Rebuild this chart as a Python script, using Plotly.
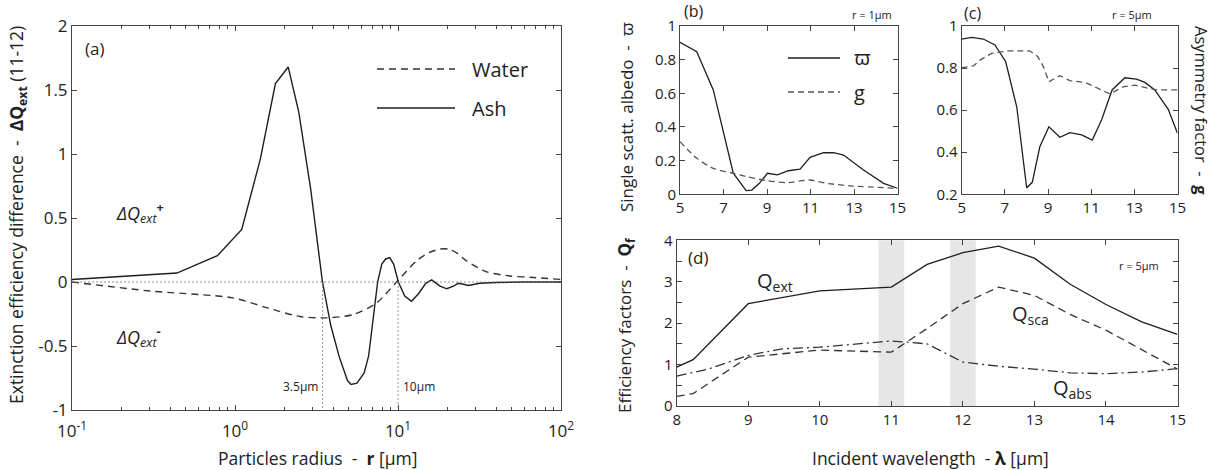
import plotly.graph_objects as go

# ---------------- data ----------------
# (a) extinction efficiency difference dQext(11-12) vs particle radius r [um]
ash_r = [0.1, 0.44, 0.78, 1.1, 1.43, 1.77, 2.12, 2.46, 2.91, 3.44, 3.87, 4.36, 4.9, 5.15, 5.6,
         6.2, 6.6, 7.0, 7.5, 7.95, 8.4, 8.9, 9.4, 10.05, 11.0, 12.1, 13.4, 14.8, 16.1, 18.0,
         19.9, 21.7, 23.4, 25.2, 27.0, 31.7, 40.0, 60.0, 100.0]
ash_dq = [0.02, 0.07, 0.205, 0.41, 0.96, 1.55, 1.68, 1.33, 0.73, 0.0, -0.34, -0.585, -0.77, -0.80, -0.79,
          -0.71, -0.58, -0.32, 0.0, 0.14, 0.18, 0.19, 0.14, 0.0, -0.11, -0.15, -0.09, -0.01, 0.016, -0.03,
          -0.053, -0.035, -0.01, -0.018, -0.027, -0.01, -0.004, 0.0, 0.0]
water_r = [0.1, 0.3, 0.97, 1.56, 2.5, 3.65, 5.3, 7.4, 9.8, 13.0, 15.5, 18.1, 20.4, 23.0, 26.3,
           35.0, 48.6, 67.6, 100.0]
water_dq = [0.0, -0.07, -0.124, -0.20, -0.27, -0.28, -0.255, -0.163, 0.0, 0.165, 0.23, 0.257, 0.257,
            0.225, 0.165, 0.079, 0.047, 0.035, 0.02]
marker_r = [3.45, 10.0]
marker_labels = ["3.5µm", "10µm"]

# (b) r = 1 um : single scattering albedo and asymmetry factor vs wavelength
b_wl_albedo = [5, 5.77, 6.53, 7.45, 8.04, 8.30, 8.65, 9.02, 9.48, 9.98, 10.52, 10.98, 11.6, 12.06,
               12.52, 13.44, 14.36, 15]
b_albedo = [0.903, 0.847, 0.62, 0.125, 0.022, 0.025, 0.065, 0.125, 0.115, 0.14, 0.15, 0.22, 0.247,
            0.247, 0.233, 0.144, 0.065, 0.036]
b_wl_asym = [5, 5.77, 6.53, 7.45, 8.07, 8.98, 9.9, 10.98, 11.73, 12.96, 15]
b_asym = [0.313, 0.214, 0.154, 0.125, 0.105, 0.081, 0.069, 0.085, 0.065, 0.049, 0.036]

# (c) r = 5 um
c_wl_albedo = [5, 5.46, 6.0, 6.54, 7.04, 7.55, 8.01, 8.27, 8.62, 9.04, 9.55, 10.01, 10.56, 11.05,
               11.48, 11.97, 12.56, 13.1, 13.49, 13.95, 14.57, 15]
c_albedo = [0.938, 0.946, 0.938, 0.910, 0.830, 0.616, 0.231, 0.257, 0.426, 0.521, 0.471, 0.493,
            0.482, 0.458, 0.553, 0.696, 0.754, 0.747, 0.732, 0.696, 0.604, 0.49]
c_wl_asym = [5, 5.54, 5.85, 6.39, 7.16, 8.17, 8.53, 8.79, 9.04, 9.55, 10.01, 10.71, 11.17, 11.87,
             12.48, 13.02, 13.64, 14.1, 15]
c_asym = [0.802, 0.81, 0.838, 0.870, 0.882, 0.881, 0.854, 0.806, 0.735, 0.764, 0.740, 0.732, 0.711,
          0.677, 0.711, 0.719, 0.704, 0.696, 0.696]

# (d) r = 5 um : efficiency factors vs wavelength
d_wl = [8, 8.23, 9, 10, 11, 11.5, 12, 12.5, 13, 13.5, 14, 14.5, 15]
d_qext = [0.94, 1.12, 2.47, 2.78, 2.87, 3.42, 3.70, 3.86, 3.57, 2.94, 2.45, 2.03, 1.73]
d_qsca = [0.23, 0.30, 1.18, 1.35, 1.30, 1.87, 2.47, 2.87, 2.67, 2.21, 1.83, 1.35, 0.89]
d_wl_abs = [8, 8.44, 9, 9.47, 10, 10.54, 11, 11.5, 12, 12.5, 13, 13.5, 14, 14.5, 15]
d_qabs = [0.72, 0.89, 1.22, 1.38, 1.42, 1.50, 1.57, 1.50, 1.06, 0.96, 0.89, 0.80, 0.78, 0.82, 0.90]
band_centres = [11, 12]
band_half_width = 0.18

# ---------------- style / layout helpers ----------------
W, H = 1226, 470
FONT = "Open Sans"
INK = "#1e1e1e"
AX = "#444444"


def fx(p):
    return p / W


def fy(p):
    return 1 - p / H


fig = go.Figure()

# (a)
fig.add_trace(go.Scatter(x=water_r, y=water_dq, mode="lines", name="Water", showlegend=False,
                         line=dict(color="#333333", width=1.4, dash="7px,5px", shape="spline", smoothing=0.7),
                         xaxis="x", yaxis="y"))
fig.add_trace(go.Scatter(x=ash_r, y=ash_dq, mode="lines", name="Ash", showlegend=False,
                         line=dict(color=INK, width=1.4), xaxis="x", yaxis="y"))
# (b)
fig.add_trace(go.Scatter(x=b_wl_albedo, y=b_albedo, mode="lines", name="ϖ", showlegend=False,
                         line=dict(color=INK, width=1.3), xaxis="x2", yaxis="y2"))
fig.add_trace(go.Scatter(x=b_wl_asym, y=b_asym, mode="lines", name="g", showlegend=False,
                         line=dict(color="#555555", width=1.3, dash="6px,4px", shape="spline", smoothing=0.6),
                         xaxis="x2", yaxis="y2"))
# (c)
fig.add_trace(go.Scatter(x=c_wl_albedo, y=c_albedo, mode="lines", name="ϖ (r=5µm)", showlegend=False,
                         line=dict(color=INK, width=1.3), xaxis="x3", yaxis="y3"))
fig.add_trace(go.Scatter(x=c_wl_asym, y=c_asym, mode="lines", name="g (r=5µm)", showlegend=False,
                         line=dict(color="#555555", width=1.3, dash="6px,4px"), xaxis="x3", yaxis="y3"))
# (d)
fig.add_trace(go.Scatter(x=d_wl, y=d_qext, mode="lines", name="Qext", showlegend=False,
                         line=dict(color=INK, width=1.3), xaxis="x4", yaxis="y4"))
fig.add_trace(go.Scatter(x=d_wl, y=d_qsca, mode="lines", name="Qsca", showlegend=False,
                         line=dict(color="#333333", width=1.3, dash="8px,5px"), xaxis="x4", yaxis="y4"))
fig.add_trace(go.Scatter(x=d_wl_abs, y=d_qabs, mode="lines", name="Qabs", showlegend=False,
                         line=dict(color="#333333", width=1.3, dash="10px,4px,2px,4px"), xaxis="x4", yaxis="y4"))

tickfont = dict(family=FONT, size=15, color="#222222")
base = dict(showline=True, linecolor=AX, linewidth=1, mirror="allticks", ticks="inside", ticklen=5,
            tickcolor=AX, tickwidth=1, showgrid=False, zeroline=False, tickfont=tickfont, fixedrange=True,
            automargin=False)

minor_log = [m * 10 ** e for e in (-1, 0, 1) for m in range(2, 10)]

fig.update_layout(
    width=W, height=H, autosize=False,
    margin=dict(l=0, r=0, t=0, b=0),
    paper_bgcolor="white", plot_bgcolor="white",
    font=dict(family=FONT, color="#222222"),
    xaxis=dict(base, type="log", range=[-1, 2], domain=[fx(72), fx(561)], anchor="y",
               tickvals=[0.1, 1, 10, 100],
               ticktext=["10<sup>-1</sup>", "10<sup>0</sup>", "10<sup>1</sup>", "10<sup>2</sup>"],
               tickfont=dict(family=FONT, size=17, color="#222222"), ticklabelstandoff=6,
               minor=dict(ticks="inside", ticklen=3, tickvals=minor_log, tickcolor=AX)),
    yaxis=dict(base, range=[-1, 2], domain=[fy(410), fy(26)], anchor="x",
               tickvals=[-1, -0.5, 0, 0.5, 1, 1.5, 2],
               ticktext=["-1", "-0.5", "0", "0.5", "1", "1.5", "2"],
               tickfont=dict(family=FONT, size=17, color="#222222")),
    xaxis2=dict(base, range=[5, 15], domain=[fx(680), fx(897.5)], anchor="y2", tickvals=[5, 7, 9, 11, 13, 15]),
    yaxis2=dict(base, range=[0, 1], domain=[fy(194.3), fy(26)], anchor="x2", dtick=0.2),
    xaxis3=dict(base, range=[5, 15], domain=[fx(961.7), fx(1177.5)], anchor="y3", tickvals=[5, 7, 9, 11, 13, 15]),
    yaxis3=dict(base, range=[0.2, 1], domain=[fy(194.3), fy(26)], anchor="x3", tick0=0.2, dtick=0.2),
    xaxis4=dict(base, range=[8, 15], domain=[fx(676.7), fx(1177.5)], anchor="y4", dtick=1),
    yaxis4=dict(base, range=[0, 4], domain=[fy(406), fy(240.3)], anchor="x4", dtick=1,
                minor=dict(ticks="inside", ticklen=5, dtick=0.5, tickcolor=AX)),
)

shapes = []
# grey bands in (d)
for c in band_centres:
    shapes.append(dict(type="rect", xref="x4", yref="y4 domain", x0=c - band_half_width, x1=c + band_half_width,
                       y0=0, y1=1, fillcolor="#e6e6e6", line=dict(width=0), layer="below"))
# dotted reference lines in (a)
shapes.append(dict(type="line", xref="x domain", yref="y", x0=0, x1=1, y0=0, y1=0,
                   line=dict(color="#777777", width=0.8, dash="2px,2px")))
for r in marker_r:
    shapes.append(dict(type="line", xref="x", yref="y", x0=r, x1=r, y0=0, y1=-1,
                       line=dict(color="#777777", width=0.8, dash="2px,2px")))
# legend line samples
shapes.append(dict(type="line", xref="paper", yref="paper", x0=fx(377), x1=fx(455), y0=fy(69), y1=fy(69),
                   line=dict(color="#333333", width=1.4, dash="7px,5px")))
shapes.append(dict(type="line", xref="paper", yref="paper", x0=fx(377), x1=fx(455), y0=fy(108), y1=fy(108),
                   line=dict(color=INK, width=1.4)))
shapes.append(dict(type="line", xref="paper", yref="paper", x0=fx(788), x1=fx(840), y0=fy(58), y1=fy(58),
                   line=dict(color=INK, width=1.3)))
shapes.append(dict(type="line", xref="paper", yref="paper", x0=fx(788), x1=fx(840), y0=fy(92), y1=fy(92),
                   line=dict(color="#555555", width=1.3, dash="6px,4px")))
fig.update_layout(shapes=shapes)


def ann(x, y, text, size=15, angle=0, xanchor="center", yanchor="middle", color="#222222"):
    return dict(x=fx(x), y=fy(y), xref="paper", yref="paper", text=text, showarrow=False,
                textangle=angle, xanchor=xanchor, yanchor=yanchor,
                font=dict(family=FONT, size=size, color=color))


annotations = [
    # axis titles
    ann(18, 215, "Extinction efficiency difference  -  <b>ΔQ<sub>ext</sub></b> (11-12)", 17.5, -90),
    ann(317, 458, "Particles radius  -  <b>r</b> [µm]", 17.5),
    ann(627, 117, "Single scatt. albedo  -  ϖ", 17, -90),
    ann(1202, 110, "Asymmetry factor  -  <b>g</b>", 16.5, 90),
    ann(625, 325, "Efficiency factors  -  <b>Q<sub>f</sub></b>", 17, -90),
    ann(930, 458, "Incident wavelength  - <b>λ</b> [µm]", 17.5),
    # panel labels
    ann(94, 48, "(a)", 17),
    ann(694, 11, "(b)", 16),
    ann(972, 13, "(c)", 16),
    ann(698, 257, "(d)", 17),
    ann(872, 15, "r = 1µm", 11),
    ann(1132, 15, "r = 5µm", 11),
    ann(1139, 265, "r = 5µm", 11),
    # legend texts
    ann(470, 69, "Water", 20, xanchor="left"),
    ann(470, 108, "Ash", 20, xanchor="left"),
    ann(852, 58, "ϖ", 20, xanchor="left"),
    ann(852, 92, "g", 20, xanchor="left"),
    # in-plot labels (a)
    ann(140, 213, "<i>ΔQ<sub>ext</sub></i><sup><b>+</b></sup>", 18),
    ann(138, 337, "<i>ΔQ<sub>ext</sub></i><sup><b>-</b></sup>", 18),
    # in-plot labels (d)
    ann(775, 281, "Q<sub>ext</sub>", 20),
    ann(1030, 314, "Q<sub>sca</sub>", 20),
    ann(1072, 388, "Q<sub>abs</sub>", 20),
]
# labels of the dotted markers, positioned on axis (a)
annotations.append(dict(x=0.539, y=-0.82, xref="x", yref="y", text=marker_labels[0], showarrow=False,
                        xanchor="right", yanchor="middle", xshift=-3, font=dict(family=FONT, size=12, color="#222222")))
annotations.append(dict(x=1.0, y=-0.82, xref="x", yref="y", text=marker_labels[1], showarrow=False,
                        xanchor="left", yanchor="middle", xshift=3, font=dict(family=FONT, size=12, color="#222222")))
fig.update_layout(annotations=annotations)

# remove the browser's default page margin so the figure sits at the window origin
fig.write_html("out.html", config={"displayModeBar": False, "staticPlot": True},
               post_script="document.body.style.margin='0px';document.body.style.overflow='hidden';")
